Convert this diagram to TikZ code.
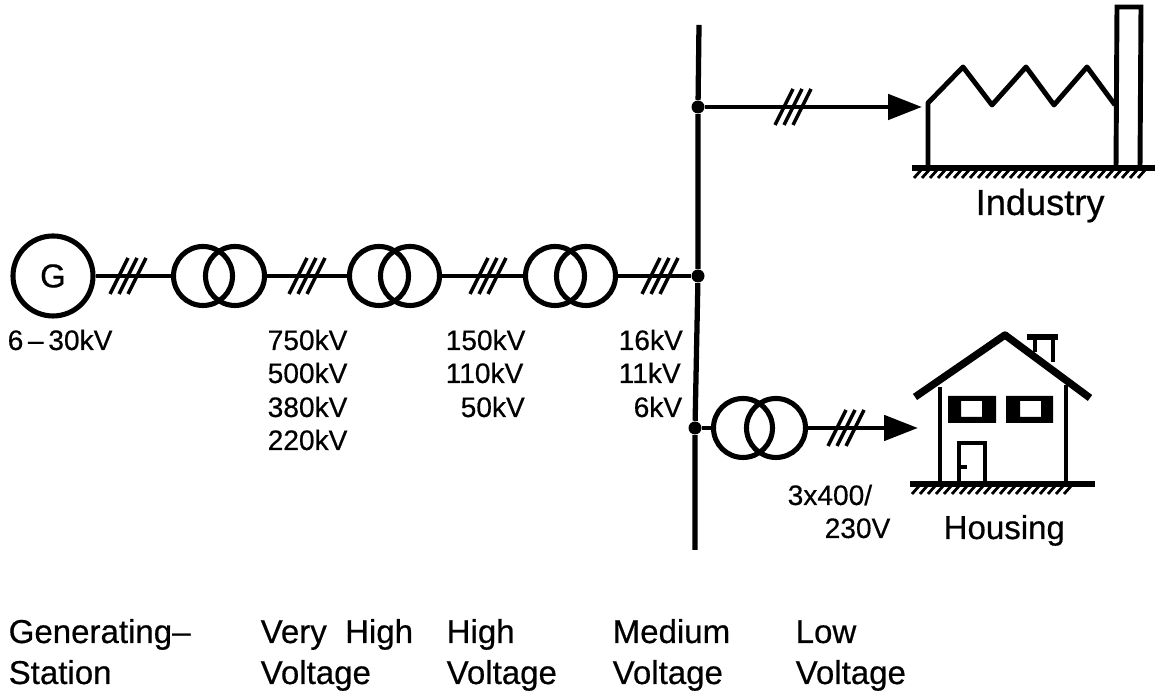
\documentclass[tikz,border=0pt]{standalone}
\usepackage{fontspec}
\setmainfont[FakeBold=0.5]{Liberation Sans}
\usetikzlibrary{arrows.meta}
\tikzset{
  wire/.style={line width=1.4pt},
  coil/.style={circle, draw, line width=1.45pt, minimum size=0.59cm, inner sep=0pt},
  dot/.style={circle, fill=black, minimum size=0.13cm, inner sep=0pt},
  small/.style={anchor=base west, inner sep=0pt, font=\fontsize{8}{10}\selectfont},
  big/.style={anchor=base west, inner sep=0pt, font=\fontsize{9.4}{11}\selectfont},
  feed/.style={wire, -{Triangle[length=0.34cm, width=0.25cm]}},
  threeph/.pic={
    \foreach \d in {-0.09,0,0.09}
      \draw[line width=1pt] (\d-0.09,-0.18) -- (\d+0.09,0.18);
  }
}
\begin{document}
\begin{tikzpicture}
  \useasboundingbox (0,0) rectangle (11.57,6.94);

  % Define generator and transformers
  \node[circle, draw, line width=1.45pt, minimum size=0.8cm, inner sep=0pt, font=\fontsize{9.4}{11}\selectfont] (g) at (0.53,4.18) {G};
  \node[coil] (t1a) at (2.03,4.18) {};
  \node[coil] (t1b) at (2.35,4.18) {};
  \node[coil] (t2a) at (3.79,4.18) {};
  \node[coil] (t2b) at (4.10,4.18) {};
  \node[coil] (t3a) at (5.55,4.18) {};
  \node[coil] (t3b) at (5.86,4.18) {};
  \node[coil] (t4a) at (7.43,2.66) {};
  \node[coil] (t4b) at (7.76,2.66) {};

  % Define bus
  \coordinate (bustop) at (6.99,6.69);
  \coordinate (busbot) at (6.95,1.44);
  \node[dot] (busa) at (6.98,5.87) {};
  \node[dot] (busb) at (6.98,4.18) {};
  \node[dot] (busc) at (6.95,2.66) {};
  \coordinate (indtip) at (9.22,5.87);
  \coordinate (houtip) at (9.18,2.66);

  % Draw edges
  \draw[line width=1.5pt] (bustop) -- (busa) -- (busb) -- (busc) -- (busbot);
  \draw[wire] (g) -- (t1a);
  \draw[wire] (t1b) -- (t2a);
  \draw[wire] (t2b) -- (t3a);
  \draw[wire] (t3b) -- (busb);
  \draw[wire] (busc) -- (t4a);
  \draw[feed] (busa) -- (indtip);
  \draw[feed] (t4b) -- (houtip);

  % Add phase marks
  \pic at (1.28,4.18) {threeph};
  \pic at (3.07,4.18) {threeph};
  \pic at (4.88,4.18) {threeph};
  \pic at (6.60,4.18) {threeph};
  \pic at (7.93,5.87) {threeph};
  \pic at (8.46,2.66) {threeph};

  % Draw factory
  \draw[wire, line join=round] (9.28,5.26) -- (9.28,5.91) -- (9.63,6.27) -- (9.92,5.89) -- (10.26,6.27)
    -- (10.54,5.89) -- (10.87,6.27) -- (11.15,5.89);
  \draw[wire] (11.16,5.26) -- (11.17,6.87) -- (11.41,6.87) -- (11.40,5.26);
  \draw[line width=1.5pt] (9.12,5.26) -- (11.55,5.26);
  \foreach \x in {9.14,9.22,...,11.40}
    \draw[line width=0.8pt] (\x,5.16) -- (\x+0.08,5.25);

  % Draw house
  \draw[line width=2.1pt, line join=round] (9.15,2.97) -- (10.05,3.59) -- (10.90,2.96);
  \draw[wire] (9.40,2.11) -- (9.40,3.07);
  \draw[wire] (10.66,2.11) -- (10.66,3.09);
  \draw[wire] (10.35,3.42) -- (10.35,3.56);
  \draw[wire] (10.53,3.32) -- (10.53,3.56);
  \draw[line width=1.5pt] (10.27,3.57) -- (10.58,3.57);
  \fill[even odd rule] (9.48,2.71) rectangle (9.96,2.98) (9.61,2.77) rectangle (9.82,2.93);
  \fill[even odd rule] (10.06,2.71) rectangle (10.53,2.98) (10.20,2.77) rectangle (10.41,2.93);
  \draw[wire] (9.59,2.11) -- (9.59,2.51) -- (9.85,2.51) -- (9.85,2.11);
  \draw[line width=0.9pt] (9.60,2.27) -- (9.67,2.27);
  \draw[line width=1.5pt] (9.10,2.10) -- (10.95,2.10);
  \foreach \x in {9.12,9.20,...,10.70}
    \draw[line width=0.8pt] (\x,2.00) -- (\x+0.08,2.09);

  % Add voltage labels
  \node[small] (gv) at (0.07,3.44) {6\,--\,30kV};
  \node[small] (v750) at (2.67,3.44) {750kV};
  \node[small] (v500) at (2.67,3.11) {500kV};
  \node[small] (v380) at (2.67,2.77) {380kV};
  \node[small] (v220) at (2.67,2.44) {220kV};
  \node[small] (v150) at (4.45,3.44) {150kV};
  \node[small] (v110) at (4.45,3.11) {110kV};
  \node[small] (v50) at (4.60,2.77) {50kV};
  \node[small] (v16) at (6.18,3.44) {16kV};
  \node[small] (v11) at (6.18,3.11) {11kV};
  \node[small] (v6) at (6.33,2.77) {6kV};
  \node[small] (lva) at (7.87,1.89) {3x400/};
  \node[small] (lvb) at (8.24,1.56) {230V};

  % Add consumer and level labels
  \node[big, font=\fontsize{10.3}{12}\selectfont] (ind) at (9.75,4.79) {Industry};
  \node[big] (hou) at (9.43,1.55) {Housing};
  \node[big] (gena) at (0.08,0.51) {Generating--};
  \node[big] (genb) at (0.08,0.10) {Station};
  \node[big] (vhva) at (2.60,0.51) {Very~~High};
  \node[big] (vhvb) at (2.60,0.10) {Voltage};
  \node[big] (hva) at (4.46,0.51) {High};
  \node[big] (hvb) at (4.46,0.10) {Voltage};
  \node[big] (mva) at (6.12,0.51) {Medium};
  \node[big] (mvb) at (6.12,0.10) {Voltage};
  \node[big] (lwa) at (7.95,0.51) {Low};
  \node[big] (lwb) at (7.95,0.10) {Voltage};
\end{tikzpicture}
\end{document}
